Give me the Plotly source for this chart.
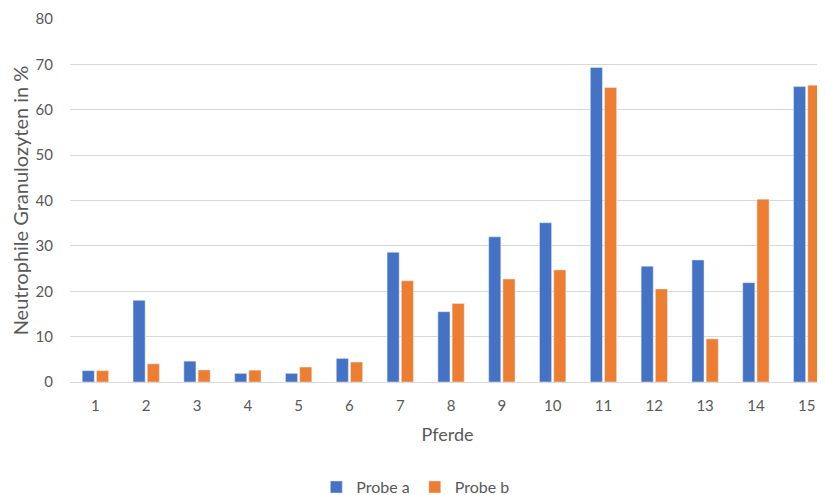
import plotly.graph_objects as go

pferde = list(range(1, 16))
tick_labels = [str(i) for i in pferde]
probe_a = [2.5, 18.0, 4.6, 1.9, 1.9, 5.2, 28.6, 15.5, 32.0, 35.1, 69.3, 25.5, 26.9, 21.9, 65.1]
probe_b = [2.5, 4.0, 2.65, 2.6, 3.3, 4.4, 22.3, 17.3, 22.7, 24.7, 64.9, 20.5, 9.5, 40.3, 65.4]

font_family = "Lato, 'Open Sans', sans-serif"
grey = "#595959"

fig = go.Figure()
fig.add_trace(go.Bar(x=pferde, y=probe_a, name="Probe a", marker_color="#4472C4"))
fig.add_trace(go.Bar(x=pferde, y=probe_b, name="Probe b", marker_color="#ED7D31"))

fig.update_layout(
    width=817, height=487,
    margin=dict(l=61.6, r=0, t=11, b=113.3, autoexpand=False),
    paper_bgcolor="white", plot_bgcolor="white",
    barmode="group", bargap=0.44, bargroupgap=0.15,
    font=dict(family=font_family, color=grey, size=15),
    legend=dict(orientation="h", x=0.458, xanchor="center", y=-0.2895, yanchor="middle",
                font=dict(size=16, color=grey), itemwidth=30, traceorder="normal"),
    xaxis=dict(range=[0.5, 15.36], tickvals=pferde, ticktext=tick_labels,
               showgrid=False, zeroline=False, showline=False,
               ticks="", ticklabelstandoff=13,
               tickfont=dict(size=15, color=grey),
               title=dict(text="Pferde", font=dict(size=18, color=grey), standoff=15)),
    yaxis=dict(range=[0, 80], dtick=10, showgrid=True, gridcolor="#D9D9D9", gridwidth=1,
               zeroline=True, zerolinecolor="#D9D9D9", zerolinewidth=1,
               showline=False, ticks="", ticklabelstandoff=16,
               tickfont=dict(size=15, color=grey),
               title=dict(text="Neutrophile Granulozyten in %", font=dict(size=20, color=grey), standoff=6)),
)

fig.write_html("out.html")
